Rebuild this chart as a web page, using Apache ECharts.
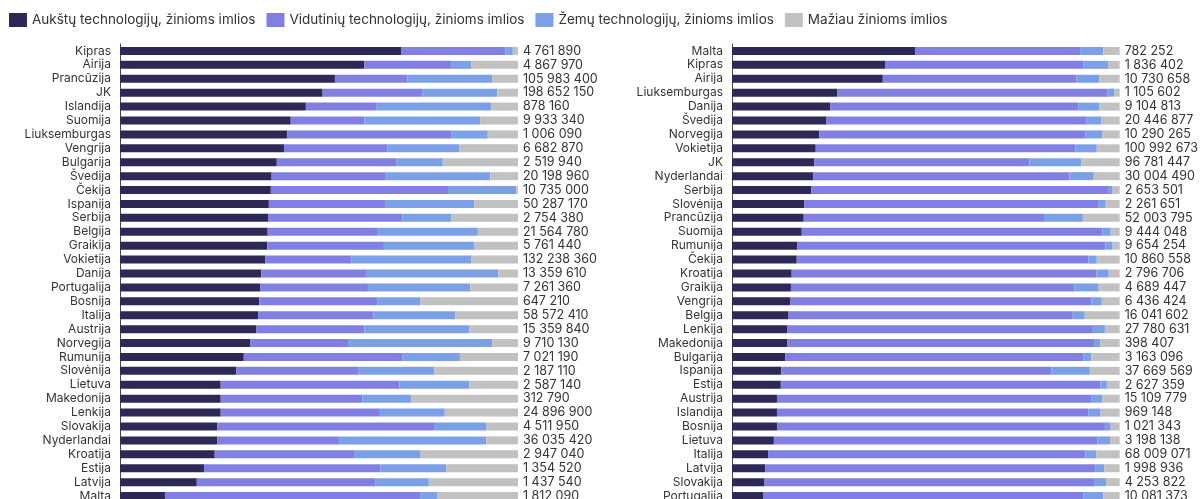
<!DOCTYPE html>
<html><head><meta charset="utf-8">
<script src="https://cdn.jsdelivr.net/npm/echarts@6/dist/echarts.min.js"></script>
<style>html,body{margin:0;padding:0;overflow:hidden;background:#fff}#c{width:1201px;height:505px}</style>
</head><body><div id="c"></div>
<script>
const seriesNames = ['Aukštų technologijų, žinioms imlios','Vidutinių technologijų, žinioms imlios','Žemų technologijų, žinioms imlios','Mažiau žinioms imlios'];
const colors = ['#2d2856','#8180e2','#7ca0e6','#c1c1c1'];

const leftCountries = ['Kipras','Airija','Prancūzija','JK','Islandija','Suomija','Liuksemburgas','Vengrija','Bulgarija','Švedija','Čekija','Ispanija','Serbija','Belgija','Graikija','Vokietija','Danija','Portugalija','Bosnija','Italija','Austrija','Norvegija','Rumunija','Slovėnija','Lietuva','Makedonija','Lenkija','Slovakija','Nyderlandai','Kroatija','Estija','Latvija','Malta'];
const leftHigh = [70.6,61.4,54.0,50.9,46.7,42.9,42.0,41.2,39.4,38.1,37.9,37.4,37.2,37.1,37.0,36.5,35.5,35.2,35.0,34.7,34.3,32.7,31.1,29.2,25.3,25.3,25.3,24.4,24.4,23.8,21.1,19.3,11.3];
const leftMid = [26.2,21.8,18.2,25.0,17.8,18.5,41.2,26.0,30.0,28.5,44.5,29.2,33.8,27.7,29.3,21.6,26.3,27.1,29.6,29.0,27.1,24.6,39.9,30.8,44.9,35.6,40.0,54.5,30.6,35.2,44.3,44.8,64.1];
const leftLow = [1.9,5.1,21.3,18.9,28.8,29.1,9.2,18.0,11.7,26.5,17.2,22.4,12.2,25.1,22.8,30.1,33.3,25.7,10.8,20.5,26.4,36.2,14.4,19.0,17.6,12.2,16.3,13.2,37.0,16.4,16.6,13.5,4.4];
const leftLess = [1.3,11.7,6.5,5.2,6.7,9.5,7.6,14.8,18.9,6.9,0.4,11.0,16.8,10.1,10.9,11.8,4.9,12.0,24.6,15.8,12.2,6.5,14.6,21.0,12.2,26.9,18.4,7.9,8.0,24.6,18.0,22.4,20.2];
const leftTotals = [4761890,4867970,105983400,198652150,878160,9933340,1006090,6682870,2519940,20198960,10735000,50287170,2754380,21564780,5761440,132238360,13359610,7261360,647210,58572410,15359840,9710130,7021190,2187110,2587140,312790,24896900,4511950,36035420,2947040,1354520,1437540,1812090];

const rightCountries = ['Malta','Kipras','Airija','Liuksemburgas','Danija','Švedija','Norvegija','Vokietija','JK','Nyderlandai','Serbija','Slovėnija','Prancūzija','Suomija','Rumunija','Čekija','Kroatija','Graikija','Vengrija','Belgija','Lenkija','Makedonija','Bulgarija','Ispanija','Estija','Austrija','Islandija','Bosnija','Lietuva','Italija','Latvija','Slovakija','Portugalija'];
const rightHigh = [47.2,39.6,38.9,27.1,25.3,24.4,22.5,21.6,21.2,21.0,20.4,18.7,18.5,18.0,16.9,16.7,15.4,15.2,15.1,14.6,14.2,14.2,13.7,12.7,12.6,11.6,11.6,11.6,10.8,9.3,8.6,8.4,8.0];
const rightMid = [42.6,51.1,50.0,69.8,64.1,67.1,68.6,67.0,55.5,66.0,76.8,75.9,62.0,77.5,79.4,75.2,78.6,73.1,77.6,73.3,78.9,79.2,77.0,69.7,82.4,81.2,80.3,84.6,83.5,81.9,85.2,85.2,82.7];
const rightLow = [6.0,6.4,5.8,1.8,5.3,3.8,4.4,5.5,13.4,6.3,1.0,1.8,10.0,2.2,1.9,2.2,3.2,6.3,2.7,3.1,3.1,1.6,2.0,9.9,1.7,2.7,3.2,1.5,3.2,2.8,2.2,2.9,5.1];
const rightLess = [4.2,2.9,5.3,1.3,5.3,4.7,4.5,5.9,9.9,6.7,1.8,3.6,9.5,2.3,1.8,5.9,2.8,5.4,4.6,9.0,3.8,5.0,7.3,7.7,3.3,4.5,4.9,2.3,2.5,6.0,4.0,3.5,4.2];
const rightTotals = [782252,1836402,10730658,1105602,9104813,20446877,10290265,100992673,96781447,30004490,2653501,2261651,52003795,9444048,9654254,10860558,2796706,4689447,6436424,16041602,27780631,398407,3163096,37669569,2627359,15109779,969148,1021343,3198138,68009071,1998936,4253822,10081373];

function fmt(n){return String(n).replace(/\B(?=(\d{3})+(?!\d))/g,' ');}

const chart = echarts.init(document.getElementById('c'));
const font = 'Inter, "Noto Sans", sans-serif';
const catStyle = {fontSize:12,color:'#333',fontFamily:font,interval:0};
const totStyle = {fontSize:12.5,color:'#333',fontFamily:font,interval:0};

function mkSeries(idx, arrs){
  return arrs.map((d,i)=>({
    name: seriesNames[i], type:'bar', stack:'s'+idx, xAxisIndex:idx, yAxisIndex:idx*2,
    data:d, barWidth:8, itemStyle:{color:colors[i]}, emphasis:{disabled:true}, animation:false
  }));
}

chart.setOption({
  animation:false,
  textStyle:{fontFamily:font},
  legend:{left:4, top:8, itemWidth:18, itemHeight:14, itemGap:11, icon:'rect',
    data:seriesNames, textStyle:{fontSize:13.5,color:'#333',fontFamily:font}},
  grid:[{left:120, width:398, top:44, height:459},{left:732, width:397, top:44, height:459}],
  xAxis:[{gridIndex:0,type:'value',min:0,max:100,show:false},{gridIndex:1,type:'value',min:0,max:100,show:false}],
  yAxis:[
    {gridIndex:0,type:'category',data:leftCountries,inverse:true,axisTick:{show:false},
      axisLine:{lineStyle:{color:'#444',width:1}},axisLabel:Object.assign({margin:9},catStyle)},
    {gridIndex:0,type:'category',position:'right',data:leftTotals.map(fmt),inverse:true,axisTick:{show:false},
      axisLine:{show:false},axisLabel:Object.assign({margin:5},totStyle)},
    {gridIndex:1,type:'category',data:rightCountries,inverse:true,axisTick:{show:false},
      axisLine:{lineStyle:{color:'#444',width:1}},axisLabel:Object.assign({margin:9},catStyle)},
    {gridIndex:1,type:'category',position:'right',data:rightTotals.map(fmt),inverse:true,axisTick:{show:false},
      axisLine:{show:false},axisLabel:Object.assign({margin:5},totStyle)}
  ],
  series: mkSeries(0,[leftHigh,leftMid,leftLow,leftLess]).concat(mkSeries(1,[rightHigh,rightMid,rightLow,rightLess]))
});
</script></body></html>
